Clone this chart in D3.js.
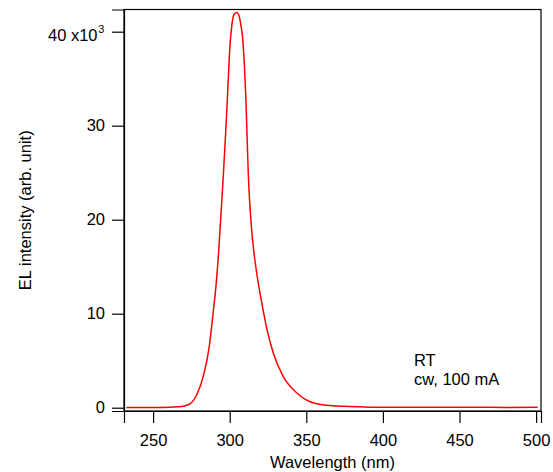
<!DOCTYPE html>
<html>
<head>
<meta charset="utf-8">
<script src="https://cdn.jsdelivr.net/npm/d3@7/dist/d3.min.js"></script>
<style>
  html, body { margin: 0; padding: 0; background: #fff; }
  svg { display: block; font-family: "Liberation Sans", Arial, sans-serif; }
</style>
</head>
<body>
<div id="chart"></div>
<script>
  "use strict";

  // EL spectrum (wavelength in nm, intensity in 10^3 counts)
  var wavelengths = [232.6, 245, 255, 261, 266, 269.6, 274.0, 278.4, 282.7, 286.6, 289.2, 291.4,
    292.5, 293.6, 294.9, 296.2, 297.5, 298.8, 300.1, 301.4, 302.7, 304.5, 306.0, 307.3, 308.4,
    309.6, 310.6, 312.1, 313.0, 314.0, 315.2, 316.6, 318.3, 320.9, 324.1, 328.5, 335.0, 343.8,
    352.4, 363.4, 375, 385, 400, 420, 440, 460, 480, 501];
  var intensities = [0.03, 0.02, 0.03, 0.05, 0.1, 0.15, 0.4, 1.35, 3.3, 6.45, 10.1, 13.6,
    15.9, 18.7, 22.1, 25.8, 29.7, 34.0, 38.3, 40.7, 41.8, 42.05, 41.75, 40.7, 39.4,
    36.4, 32.7, 25.0, 22.0, 19.6, 17.4, 15.5, 13.6, 11.2, 8.5, 5.8, 3.3, 1.57,
    0.64, 0.26, 0.15, 0.1, 0.05, 0.06, 0.04, 0.05, 0.03, 0.05];

  var xTicks = [250, 300, 350, 400, 450, 500];
  var yTicks = [0, 10, 20, 30, 40];
  var notes = ["RT", "cw, 100 mA"];

  (function () {
    var width = 553, height = 472;
    var plotL = 124, plotR = 541, plotT = 9.5, plotB = 411;
    var fontSize = "16.5px";

    var svg = d3.select("#chart").append("svg")
      .attr("width", width)
      .attr("height", height);

    var x = d3.scaleLinear().domain([231, 503.2]).range([plotL, plotR]);
    var y = d3.scaleLinear().domain([-0.35, 42.36]).range([plotB, plotT]);

    var points = wavelengths.map(function (w, i) { return [w, intensities[i]]; });

    // frame
    svg.append("rect")
      .attr("x", plotL)
      .attr("y", plotT)
      .attr("width", plotR - plotL)
      .attr("height", plotB - plotT)
      .attr("fill", "none")
      .attr("stroke", "#000")
      .attr("stroke-width", 1.2);

    var xAxis = svg.append("g")
      .attr("transform", "translate(0," + plotB + ")")
      .call(d3.axisBottom(x).tickValues(xTicks).tickSize(12).tickPadding(11));

    var yAxis = svg.append("g")
      .attr("transform", "translate(" + plotL + ",0)")
      .call(d3.axisLeft(y).tickValues(yTicks).tickSize(12).tickPadding(7).tickFormat(function (d) {
        return d === 40 ? "" : d;
      }));

    [xAxis, yAxis].forEach(function (ax) {
      ax.select(".domain").attr("stroke", "#000").attr("stroke-width", 1.2);
      ax.selectAll(".tick line").attr("stroke", "#000").attr("stroke-width", 1.2);
      ax.selectAll(".tick text")
        .attr("fill", "#000")
        .style("font-size", fontSize)
        .style("font-family", "'Liberation Sans', Arial, sans-serif");
    });

    // top tick label with the x10^3 multiplier
    svg.append("text")
      .attr("x", 97.5)
      .attr("y", 41)
      .attr("text-anchor", "end")
      .attr("font-size", fontSize)
      .attr("fill", "#000")
      .text("40 x10");
    svg.append("text")
      .attr("x", 98.3)
      .attr("y", 32.5)
      .attr("font-size", "11px")
      .attr("fill", "#000")
      .text("3");

    var line = d3.line()
      .x(function (d) { return x(d[0]); })
      .y(function (d) { return y(d[1]); })
      .curve(d3.curveMonotoneX);

    svg.append("path")
      .datum(points)
      .attr("d", line)
      .attr("fill", "none")
      .attr("stroke", "#f00")
      .attr("stroke-width", 1.5);

    svg.append("text")
      .attr("x", (plotL + plotR) / 2)
      .attr("y", 467.5)
      .attr("text-anchor", "middle")
      .attr("font-size", fontSize)
      .text("Wavelength (nm)");

    svg.append("text")
      .attr("transform", "translate(30.5," + ((plotT + plotB) / 2) + ") rotate(-90)")
      .attr("text-anchor", "middle")
      .attr("font-size", fontSize)
      .text("EL intensity (arb. unit)");

    svg.selectAll(".note")
      .data(notes)
      .enter().append("text")
      .attr("class", "note")
      .attr("x", 414)
      .attr("y", function (d, i) { return 365.5 + i * 19.5; })
      .attr("font-size", fontSize)
      .text(function (d) { return d; });
  })();
</script>
</body>
</html>
